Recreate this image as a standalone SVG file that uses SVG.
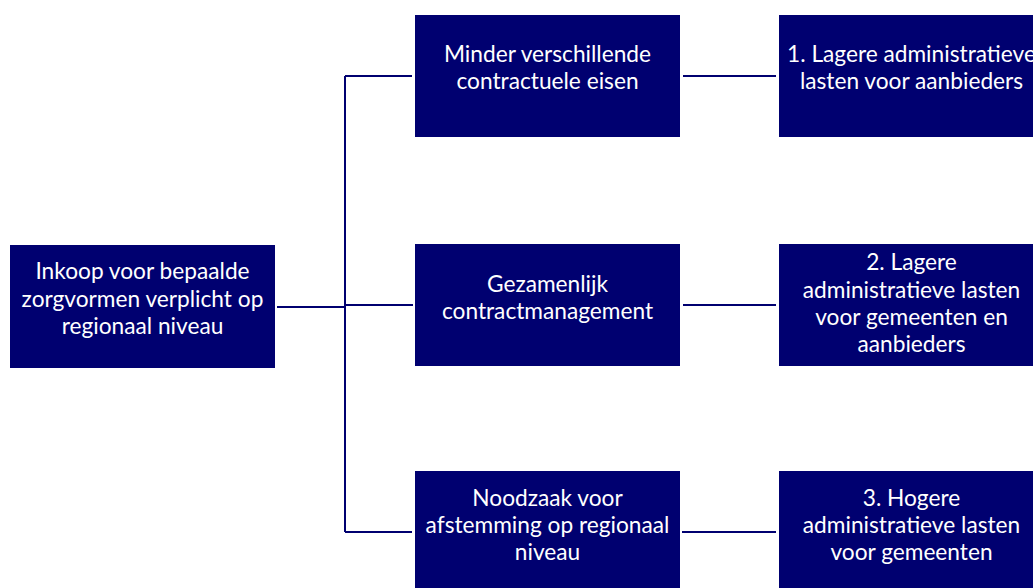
<svg xmlns="http://www.w3.org/2000/svg" width="1033" height="588" viewBox="0 0 1033 588">
<style>
.box{fill:#000070;}
.lbl{font-family:"Lato","Noto Sans","Liberation Sans",sans-serif;font-size:22.7px;fill:#ffffff;text-anchor:middle;}
.con{stroke:#000070;stroke-width:2;fill:none;}
</style>
<rect x="0" y="0" width="1033" height="588" fill="#ffffff"/>
<g id="connectors">
<path class="con" d="M277,307 H345"/>
<path class="con" d="M345,305 H413"/>
<path class="con" d="M345,76 V532"/>
<path class="con" d="M345,76 H412"/>
<path class="con" d="M345,532 H412"/>
<path class="con" d="M683,76 H776"/>
<path class="con" d="M683,305 H776"/>
<path class="con" d="M682,532 H776"/>
</g>
<g id="node-inkoop">
<rect class="box" x="10" y="245" width="265" height="123"/>
<text class="lbl" x="142.5" y="279">Inkoop voor bepaalde</text>
<text class="lbl" x="142.5" y="306.5">zorgvormen verplicht op</text>
<text class="lbl" x="142.5" y="334">regionaal niveau</text>
</g>
<g id="node-minder">
<rect class="box" x="415" y="15" width="265" height="122"/>
<text class="lbl" x="547.5" y="62">Minder verschillende</text>
<text class="lbl" x="547.5" y="89">contractuele eisen</text>
</g>
<g id="node-gezamenlijk">
<rect class="box" x="415" y="244" width="265" height="122"/>
<text class="lbl" x="547.5" y="292">Gezamenlijk</text>
<text class="lbl" x="547.5" y="319">contractmanagement</text>
</g>
<g id="node-noodzaak">
<rect class="box" x="415" y="471" width="265" height="117"/>
<text class="lbl" x="547.5" y="505.5">Noodzaak voor</text>
<text class="lbl" x="547.5" y="533">afstemming op regionaal</text>
<text class="lbl" x="547.5" y="560">niveau</text>
</g>
<g id="node-effect1">
<rect class="box" x="779" y="15" width="254" height="122"/>
<text class="lbl" x="911.5" y="62">1. Lagere administratieve</text>
<text class="lbl" x="911.5" y="89">lasten voor aanbieders</text>
</g>
<g id="node-effect2">
<rect class="box" x="779" y="244" width="254" height="122"/>
<text class="lbl" x="911.5" y="270">2. Lagere</text>
<text class="lbl" x="911.5" y="297.5">administratieve lasten</text>
<text class="lbl" x="911.5" y="325">voor gemeenten en</text>
<text class="lbl" x="911.5" y="352">aanbieders</text>
</g>
<g id="node-effect3">
<rect class="box" x="779" y="471" width="254" height="117"/>
<text class="lbl" x="911.5" y="505.5">3. Hogere</text>
<text class="lbl" x="911.5" y="533">administratieve lasten</text>
<text class="lbl" x="911.5" y="560">voor gemeenten</text>
</g>
</svg>
